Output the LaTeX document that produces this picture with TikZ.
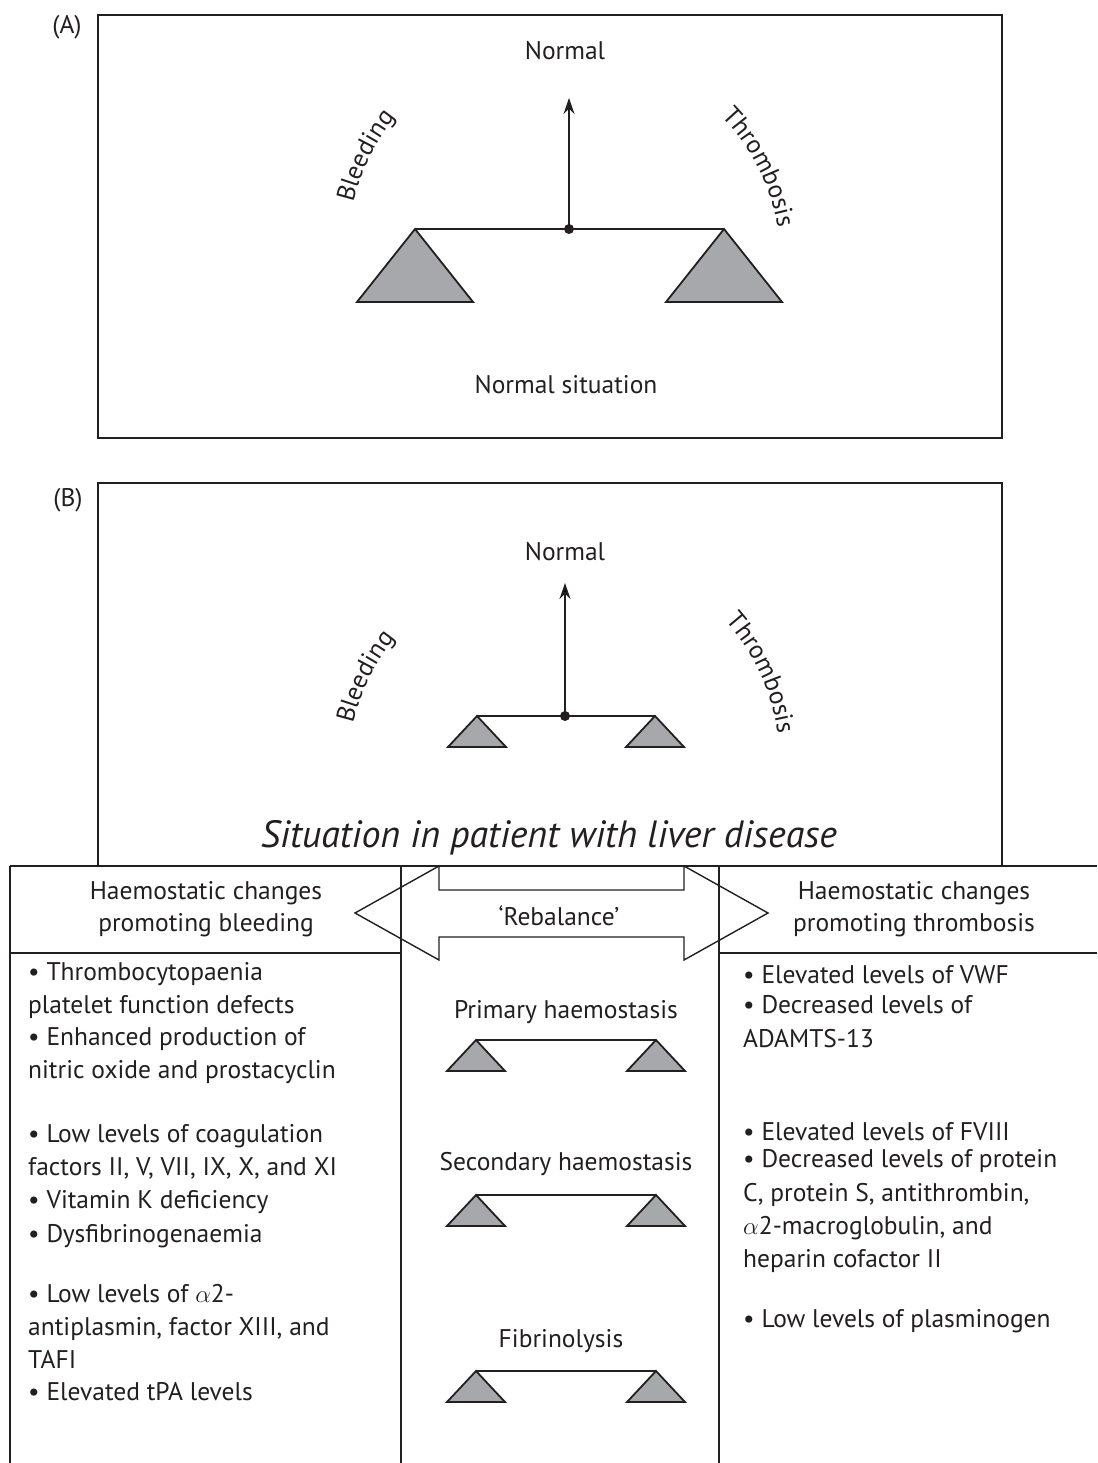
\documentclass[tikz,border=0pt]{standalone}
\usepackage{fontspec}
\setmainfont{PT Sans}
\usetikzlibrary{arrows.meta,decorations.text}
\definecolor{trigray}{RGB}{167,168,171}
\definecolor{ink}{RGB}{35,31,32}
\tikzset{
  frame/.style={line width=1.5pt, draw=ink},
  txt/.style={inner sep=0pt, text=ink, font=\fontsize{25.5}{30}\selectfont},
  lbl/.style={txt, anchor=base west},
  ctr/.style={txt, anchor=base},
  beam/.style={line width=2pt, draw=ink},
  tri/.style={fill=trigray, draw=ink, line width=1.8pt, line join=miter},
  pivot/.style={circle, fill=ink, inner sep=0pt, minimum size=10pt},
  uparrow/.style={line width=1.8pt, draw=ink, -{Stealth[length=16pt,width=11pt]}},
  curved/.style={decorate, decoration={text along path, text align=center,
     text color=ink, text={|\fontsize{25.5}{30}\selectfont|#1}}},
}
\newcommand{\balscale}[5]{%
  \draw[beam] (#1,#3) -- (#2,#3);
  \draw[tri] (#1,#3) -- (#1-#5,#4) -- (#1+#5,#4) -- cycle;
  \draw[tri] (#2,#3) -- (#2-#5,#4) -- (#2+#5,#4) -- cycle;}
\begin{document}
\begin{tikzpicture}[x=1pt,y=1pt]
\useasboundingbox[fill=white] (0,0) rectangle (1097,-1463);

% ---------- Panel A ----------
\draw[frame] (98,-15) rectangle (1002,-438);
\node[txt] (labA) at (67,-27) {(A)};
\node[ctr] (normA) at (565,-60) {Normal};
\balscale{415}{724}{-229}{-302}{58}
\node[pivot] (dotA) at (569,-229) {};
\coordinate (topA) at (569,-98);
\draw[uparrow] (dotA.center) -- (topA);
\path[curved=Bleeding] (569,-255) ++(176:222) arc[start angle=176, end angle=132, radius=222];
\path[curved=Thrombosis] (569,-264) ++(54:212) arc[start angle=54, end angle=0, radius=212];
\node[ctr] (sitA) at (566,-393) {Normal situation};

% ---------- Panel B ----------
\draw[frame] (98,-483) rectangle (1002,-866);
\node[txt] (labB) at (68,-500) {(B)};
\node[ctr] (normB) at (565,-560) {Normal};
\balscale{477}{655}{-716}{-747}{29}
\node[pivot] (dotB) at (565,-716) {};
\coordinate (topB) at (565,-583);
\draw[uparrow] (dotB.center) -- (topB);
\path[curved=Bleeding] (565,-774) ++(176:218) arc[start angle=176, end angle=132, radius=218];
\path[curved=Thrombosis] (565,-764) ++(52:215) arc[start angle=52, end angle=-2, radius=215];
\node[txt, anchor=base, font=\itshape\fontsize{38}{44}\selectfont] (sitB) at (549,-847) {Situation in patient with liver disease};

% ---------- Table ----------
\draw[frame] (10,-866) -- (1097,-866);
\draw[frame] (10,-866) -- (10,-1463);
\draw[frame] (401,-866) -- (401,-1463);
\draw[frame] (719,-866) -- (719,-1463);
\draw[frame] (10,-953) -- (401,-953);
\draw[frame] (719,-953) -- (1097,-953);

% double arrow
\draw[line width=1.4pt, draw=ink, line join=miter]
  (355,-913) -- (439,-866) -- (439,-890) -- (684,-890) -- (684,-866) -- (768,-913)
  -- (684,-960) -- (684,-937) -- (439,-937) -- (439,-960) -- cycle;
\node[ctr] (reb) at (559,-925) {‘Rebalance’};

% headers
\node[ctr] (hl1) at (206,-899) {Haemostatic changes};
\node[ctr] (hl2) at (206,-931) {promoting bleeding};
\node[ctr] (hr1) at (914,-899) {Haemostatic changes};
\node[ctr] (hr2) at (914,-931) {promoting thrombosis};

% left column
\node[lbl] (l1) at (28,-980) {• Thrombocytopaenia};
\node[lbl] (l2) at (28,-1013) {platelet function defects};
\node[lbl] (l3) at (28,-1045) {• Enhanced production of};
\node[lbl] (l4) at (28,-1078) {nitric oxide and prostacyclin};
\node[lbl] (l5) at (28,-1142) {• Low levels of coagulation};
\node[lbl] (l6) at (28,-1175) {factors II, V, VII, IX, X, and XI};
\node[lbl] (l7) at (28,-1208) {• Vitamin K deficiency};
\node[lbl] (l8) at (28,-1242) {• Dysfibrinogenaemia};
\node[lbl] (l9) at (28,-1302) {• Low levels of $\alpha$2-};
\node[lbl] (l10) at (28,-1335) {antiplasmin, factor XIII, and};
\node[lbl] (l11) at (28,-1368) {TAFI};
\node[lbl] (l12) at (28,-1400) {• Elevated tPA levels};

% middle column
\node[ctr] (m1) at (566,-1018) {Primary haemostasis};
\balscale{476}{656}{-1040}{-1071}{29}
\node[ctr] (m2) at (566,-1170) {Secondary haemostasis};
\balscale{476}{656}{-1195}{-1226}{29}
\node[ctr] (m3) at (561,-1347) {Fibrinolysis};
\balscale{476}{656}{-1371}{-1402}{29}

% right column
\node[lbl] (r1) at (743,-983) {• Elevated levels of VWF};
\node[lbl] (r2) at (743,-1013) {• Decreased levels of};
\node[lbl] (r3) at (743,-1047) {ADAMTS-13};
\node[lbl] (r4) at (743,-1140) {• Elevated levels of FVIII};
\node[lbl] (r5) at (743,-1167) {• Decreased levels of protein};
\node[lbl] (r6) at (743,-1201) {C, protein S, antithrombin,};
\node[lbl] (r7) at (743,-1234) {$\alpha$2-macroglobulin, and};
\node[lbl] (r8) at (743,-1267) {heparin cofactor II};
\node[lbl] (r9) at (743,-1327) {• Low levels of plasminogen};
\end{tikzpicture}
\end{document}
